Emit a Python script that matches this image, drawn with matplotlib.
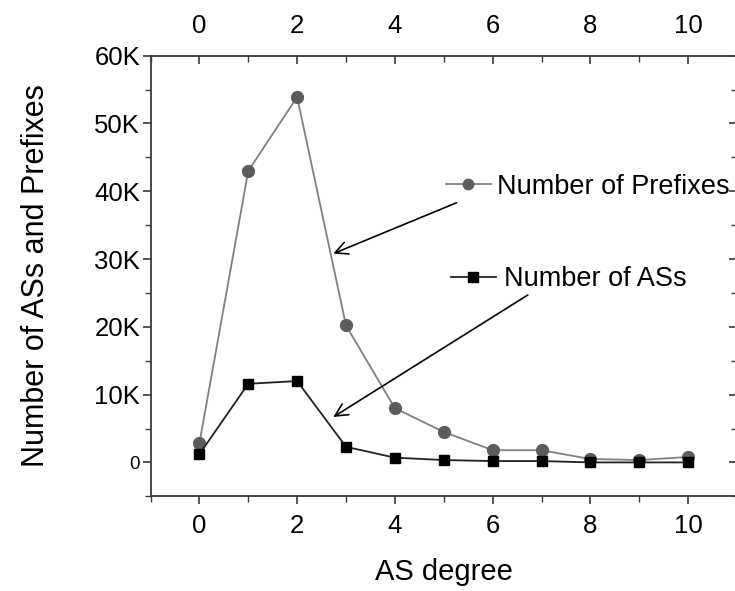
import matplotlib
matplotlib.use("Agg")
import matplotlib.pyplot as plt
from matplotlib.lines import Line2D

plt.rcParams['font.family'] = ['Liberation Sans', 'DejaVu Sans']

# ---- data ----
degrees = [0, 1, 2, 3, 4, 5, 6, 7, 8, 9, 10]
prefixes = [2800, 43000, 53900, 20200, 8000, 4500, 1800, 1800, 500, 350, 800]
ases = [1200, 11600, 12000, 2300, 700, 350, 200, 200, 0, 0, 0]
x_ticks = [0, 2, 4, 6, 8, 10]
y_ticks = [0, 10000, 20000, 30000, 40000, 50000, 60000]
y_tick_labels = ["0", "10K", "20K", "30K", "40K", "50K", "60K"]
label_prefixes = "Number of Prefixes"
label_ases = "Number of ASs"

W, H = 735, 591
fig = plt.figure(figsize=(W / 100, H / 100), dpi=100)
ax = fig.add_axes([150.5 / W, (H - 496.3) / H, (737 - 150.5) / W, (496.3 - 55.7) / H])

c_pref_line = "#808080"
c_pref_mark = "#5c5c5c"
c_as = "#000000"

ax.plot(degrees, prefixes, color=c_pref_line, lw=1.3, marker="o", ms=8.5,
        mfc=c_pref_mark, mec=c_pref_mark, zorder=3)
ax.plot(degrees, ases, color="#222222", lw=1.3, marker="s", ms=7.5,
        mfc=c_as, mec=c_as, zorder=4)

ax.set_xlim(-1, 11)
ax.set_ylim(-5000, 60000)

ax.set_xticks(x_ticks)
ax.set_xticks(range(-1, 12), minor=True)
ax.set_yticks(y_ticks)
ax.set_yticklabels(y_tick_labels)
ax.set_yticks(range(-5000, 60001, 5000), minor=True)

spine_c = "#3a3a3a"
for s in ["left", "bottom", "top"]:
    ax.spines[s].set_color(spine_c)
    ax.spines[s].set_linewidth(1.3)
ax.spines["right"].set_visible(False)

ax.tick_params(axis="x", which="both", top=True, labeltop=True, bottom=True,
               direction="out", colors=spine_c, labelcolor="black",
               labelsize=18.5, pad=7)
ax.tick_params(axis="x", which="major", length=6, width=1.2)
ax.tick_params(axis="x", which="minor", length=4, width=1.0)
ax.tick_params(axis="y", which="both", left=True, right=True,
               direction="out", colors=spine_c, labelcolor="black",
               labelsize=18.5, pad=1.5)
ax.tick_params(axis="y", which="major", length=6, width=1.2)
ax.tick_params(axis="y", which="minor", length=4, width=1.0)
# top & right ticks point inward
for t in ax.xaxis.get_major_ticks() + ax.xaxis.get_minor_ticks():
    t.tick2line.set_marker(matplotlib.lines.TICKDOWN)
for t in ax.yaxis.get_major_ticks() + ax.yaxis.get_minor_ticks():
    t.tick2line.set_marker(matplotlib.lines.TICKLEFT)

ax.get_yticklabels()[0].set_fontsize(13.5)

ax.set_xlabel("AS degree", fontsize=21, labelpad=14)
ax.set_ylabel("Number of ASs and Prefixes", fontsize=22, labelpad=31)

# in-plot legend entries
h1 = Line2D([], [], color=c_pref_line, lw=1.3, marker="o", ms=7.5,
            mfc=c_pref_mark, mec=c_pref_mark)
h2 = Line2D([], [], color="#222222", lw=1.3, marker="s", ms=7,
            mfc=c_as, mec=c_as)
fig.legend([h1], [label_prefixes], loc="center left",
           bbox_to_anchor=(446 / W, (H - 186.7) / H), frameon=False,
           fontsize=19.5, handlelength=1.65, handletextpad=0.25,
           borderpad=0, borderaxespad=0)
fig.legend([h2], [label_ases], loc="center left",
           bbox_to_anchor=(451 / W, (H - 279.3) / H), frameon=False,
           fontsize=19.5, handlelength=1.65, handletextpad=0.3,
           borderpad=0, borderaxespad=0)

arrow = dict(arrowstyle="->,head_length=0.6,head_width=0.3", color="black",
             lw=1.2, mutation_scale=15, shrinkA=0, shrinkB=0)
ax.annotate("", xy=(2.74, 30800), xytext=(5.26, 38300), arrowprops=arrow)
ax.annotate("", xy=(2.74, 6700), xytext=(6.72, 24700), arrowprops=arrow)

fig.savefig("out.png", dpi=100)
